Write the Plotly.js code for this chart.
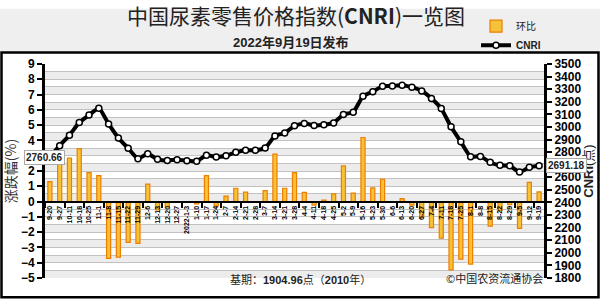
<!DOCTYPE html>
<html>
<head>
<meta charset="utf-8">
<script src="https://cdn.plot.ly/plotly-3.0.1.min.js"></script>
<style>html,body{margin:0;padding:0;background:#fff;}#chart{width:600px;height:300px;}</style>
</head>
<body>
<div id="chart"></div>
<script>
const categories = ['9-20','9-27','10-11','10-18','10-25','11-1','11-8','11-15','11-22','11-29','12-6','12-13','12-20','12-27','2022-1-3','1-10','1-17','1-24','2-7','2-14','2-21','2-28','3-7','3-14','3-21','3-28','4-4','4-11','4-18','4-25','5-2','5-9','5-16','5-23','5-30','6-6','6-13','6-20','6-27','7-4','7-11','7-18','7-25','8-1','8-8','8-15','8-22','8-29','9-5','9-12','9-19'];
const changePct = [1.3,3.3,2.85,3.47,1.9,1.7,-3.71,-3.64,-2.67,-2.73,1.14,-0.55,-0.35,0,-0.05,-0.15,1.7,-0.28,0.36,0.87,0.62,0,0.72,3.11,0.87,1.9,0.6,-0.23,0.1,0.51,2.33,0.55,4.19,0.89,1.46,0,0.19,-0.23,-1.02,-1.71,-2.39,-4.47,-3.77,-4.09,0,-1.61,-0.57,-0.2,-1.76,1.25,0.63];
const cnri = [2760.66,2851,2934,3035,3094,3148,3024,2913,2831,2748,2787,2743,2733,2740,2732,2727,2775,2762,2771,2798,2814,2815,2833,2929,2952,3009,3027,3012,3017,3032,3099,3117,3244,3280,3324,3326,3332,3316,3285,3226,3146,3001,2882,2764,2766,2719,2696,2691,2642,2679,2691.18];
const leftTicks = [-5,-4,-3,-2,-1,0,1,2,3,4,5,6,7,8,9];
const rightRange = [1800, 3500];

const xs = categories.map((_, i) => i);
const W = 600, H = 300, L = 45, R = 544, T = 57, B = 278;
const px = p => (p - L) / (R - L);
const py = q => (B - q) / (B - T);

const bars = {
  type: 'bar', name: '环比', x: xs, y: changePct, yaxis: 'y', width: 0.42,
  marker: {color: '#f6c238', line: {color: '#ee7d00', width: 1.2}},
  hoverinfo: 'skip'
};
const line = {
  type: 'scatter', mode: 'lines+markers', name: '<b>CNRI</b>', x: xs, y: cnri, yaxis: 'y2',
  line: {color: '#000', width: 4, shape: 'spline', smoothing: 0.5},
  marker: {size: 6, color: '#fff', line: {color: '#000', width: 1.5}},
  hoverinfo: 'skip'
};

const shapes = [];
shapes.push({type:'rect', xref:'paper', yref:'paper', x0:px(0), x1:px(W), y0:py(0), y1:py(45), fillcolor:'#efefef', line:{width:0}, layer:'below'});
shapes.push({type:'rect', xref:'paper', yref:'paper', x0:px(1.5), x1:px(598.5), y0:py(45), y1:py(298), fillcolor:'rgba(0,0,0,0)', line:{color:'#000', width:2.5}});
for (let k = leftTicks[0]; k < leftTicks[leftTicks.length-1]; k++) {
  shapes.push({type:'rect', xref:'paper', yref:'y', x0:0, x1:1, y0:k, y1:k+0.5, fillcolor:'#ececec', line:{width:0}, layer:'below'});
}
shapes.push({type:'rect', xref:'paper', yref:'y', x0:0, x1:1, y0:-1.5, y1:0, fillcolor:'#ffffff', line:{width:0}, layer:'below'});

const annotations = [
  {xref:'paper', yref:'paper', x:px(291), y:py(35), text:'<b>2022年9月19日发布</b>', showarrow:false, font:{size:13, color:'#222', family:'Liberation Sans, Noto Sans CJK SC'}, yanchor:'middle'},
  {xref:'paper', yref:'y2', x:px(24), y:cnri[0], text:cnri[0].toFixed(2), showarrow:false, bgcolor:'#fff', bordercolor:'#aaa', borderwidth:1, borderpad:1, font:{size:10, color:'#222', family:'Liberation Sans', weight:'bold'}},
  {xref:'paper', yref:'y2', x:px(546), y:cnri[cnri.length-1], xanchor:'left', text:cnri[cnri.length-1].toFixed(2), showarrow:false, bgcolor:'#fff', bordercolor:'#aaa', borderwidth:1, borderpad:1, font:{size:10, color:'#222', family:'Liberation Sans', weight:'bold'}},
  {xref:'paper', yref:'paper', x:px(300), y:py(288), text:'基期：<b>1904.96</b>点（<b>2010</b>年）', showarrow:false, font:{size:11, color:'#222', family:'Liberation Sans, Noto Sans CJK SC'}},
  {xref:'paper', yref:'paper', x:px(545), y:py(288), text:'©中国农资流通协会', showarrow:false, font:{size:11, color:'#222', family:'Noto Sans CJK SC'}}
];

const layout = {
  width: W, height: H,
  margin: {l: L, r: W - R, t: T, b: H - B, pad: 0},
  paper_bgcolor: '#fff', plot_bgcolor: '#fff',
  font: {family: 'Liberation Sans, Noto Sans CJK SC', color: '#000'},
  title: {text: '中国尿素零售价格指数(<b>CNRI</b>)一览图', xref:'paper', x: px(296), xanchor:'center', yref:'container', y: 1 - 17/H, yanchor:'middle', font: {size: 21, color: '#222', family: 'Noto Sans CJK SC'}},
  showlegend: true,
  legend: {x: px(476), y: py(3), xanchor: 'left', yanchor: 'top', bgcolor: 'rgba(0,0,0,0)', font: {size: 10, color:'#222'}, itemwidth: 30, tracegroupgap: 0},
  bargap: 0,
  xaxis: {
    anchor: 'free', position: 5/14, range: [-0.5, categories.length - 0.5],
    tickvals: xs, ticktext: categories, tickangle: -90,
    tickfont: {size: 7, family: 'Liberation Sans', weight: 'bold', color: '#000'},
    ticks: '', showline: true, linecolor: '#000', linewidth: 2.5, showgrid: false, zeroline: false,
    minor: {ticks: 'outside', ticklen: 5, tickwidth: 2, tickcolor: '#000', tick0: 1.5, dtick: 2, showgrid: false}
  },
  yaxis: {
    range: [leftTicks[0], leftTicks[leftTicks.length-1]], tickvals: leftTicks,
    ticks: 'outside', ticklen: 5, tickwidth: 2, tickcolor: '#000',
    showline: true, linecolor: '#000', linewidth: 3, zeroline: false,
    showgrid: true, gridcolor: '#c2c2c2', gridwidth: 1,
    minor: {dtick: 0.5, showgrid: true, gridcolor: '#c2c2c2', gridwidth: 1},
    tickfont: {size: 12, weight: 'bold', family: 'Liberation Sans'},
    title: {text: '涨跌幅(%)', standoff: 6, font: {size: 14, color: '#333', family: 'Noto Sans CJK SC'}}
  },
  yaxis2: {
    overlaying: 'y', side: 'right', range: rightRange, dtick: 100,
    ticks: 'outside', ticklen: 5, tickwidth: 2, tickcolor: '#000',
    showline: true, linecolor: '#000', linewidth: 3, zeroline: false, showgrid: false,
    tickfont: {size: 12, weight: 'bold', family: 'Liberation Sans'},
    title: {text: '<b>CNRI</b>(点)', standoff: 4, font: {size: 13, color: '#222', family: 'Liberation Sans, Noto Sans CJK SC'}}
  },
  shapes: shapes,
  annotations: annotations
};

Plotly.newPlot('chart', [bars, line], layout, {staticPlot: true, displayModeBar: false});
</script>
</body>
</html>
